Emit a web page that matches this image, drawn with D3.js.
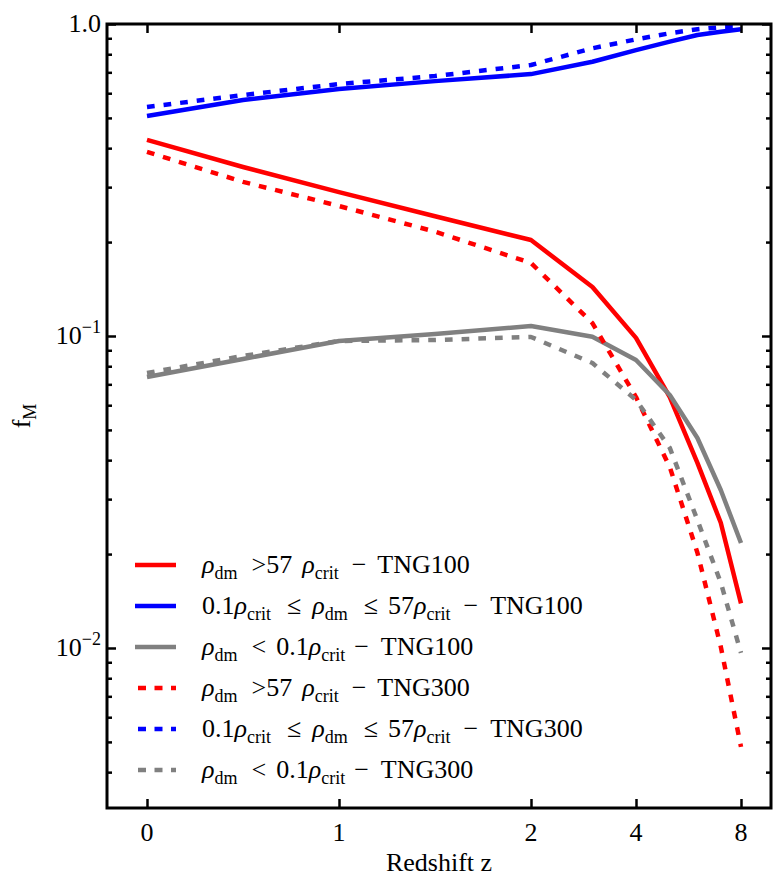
<!DOCTYPE html>
<html>
<head>
<meta charset="utf-8">
<script src="https://cdn.jsdelivr.net/npm/d3@7"></script>
<style>
  body { margin: 0; background: #fff; }
  text { white-space: pre; font-family: "Liberation Serif", "DejaVu Serif", serif; }
</style>
</head>
<body>
<div id="chart"></div>
<script>
// redshifts of the snapshots
const redshifts = [0, 0.5, 1, 1.5, 2, 3, 4, 5, 6, 7, 8];

// mass fractions
const highTNG100 = [0.425, 0.348, 0.289, 0.242, 0.203, 0.1436, 0.0986, 0.0637, 0.0392, 0.0252, 0.0139];
const midTNG100  = [0.507, 0.571, 0.619, 0.656, 0.691, 0.757, 0.825, 0.878, 0.922, 0.945, 0.962];
const lowTNG100  = [0.0739, 0.0844, 0.0964, 0.1015, 0.1076, 0.0995, 0.0838, 0.0647, 0.0471, 0.0321, 0.0217];
const highTNG300 = [0.389, 0.312, 0.261, 0.216, 0.1714, 0.110, 0.0637, 0.038, 0.0202, 0.0101, 0.00482];
const midTNG300  = [0.542, 0.592, 0.642, 0.681, 0.739, 0.836, 0.893, 0.934, 0.962, 0.976, 0.978];
const lowTNG300  = [0.0761, 0.0863, 0.0964, 0.0971, 0.0993, 0.0819, 0.0624, 0.0438, 0.0257, 0.0162, 0.00964];

const xTickValues = [0, 1, 2, 4, 8];
const yMajorTicks = [0.01, 0.1, 1];
const yMinorTicks = [0.004, 0.005, 0.006, 0.007, 0.008, 0.009,
                     0.02, 0.03, 0.04, 0.05, 0.06, 0.07, 0.08, 0.09,
                     0.2, 0.3, 0.4, 0.5, 0.6, 0.7, 0.8, 0.9];

const margin = {top: 24, right: 12, bottom: 80, left: 107};
const width = 783 - margin.left - margin.right;
const height = 888 - margin.top - margin.bottom;

// axis is linear up to z=2 then logarithmic in z
function warpZ(z) {
    return z <= 2 ? z : 2 + Math.log2(z / 2) * (105 / 192);
}

const x = d3.scaleLinear()
    .domain([-0.2083, 3.25])
    .range([0, width]);

const y = d3.scaleLog()
    .domain([0.00307, 1])
    .range([height, 0]);

const svg = d3.select('#chart')
    .append('svg')
    .attr('width', 783)
    .attr('height', 888);

const g = svg.append('g')
    .attr('transform', `translate(${margin.left},${margin.top})`);

const series = [
    {values: highTNG100, color: '#ff0000', dotted: false},
    {values: midTNG100,  color: '#0000ff', dotted: false},
    {values: lowTNG100,  color: '#808080', dotted: false},
    {values: highTNG300, color: '#ff0000', dotted: true},
    {values: midTNG300,  color: '#0000ff', dotted: true},
    {values: lowTNG300,  color: '#808080', dotted: true}
];

const line = d3.line()
    .x((d, i) => x(warpZ(redshifts[i])))
    .y(d => y(d));

g.selectAll('path.series')
    .data(series)
    .enter()
    .append('path')
    .attr('class', 'series')
    .attr('fill', 'none')
    .attr('stroke', d => d.color)
    .attr('stroke-width', 4.5)
    .attr('stroke-linejoin', 'round')
    .attr('stroke-dasharray', d => d.dotted ? '7.7,9' : null)
    .attr('d', d => line(d.values));

// ticks, all pointing inward
function ticks(axis, size, values, transform) {
    const a = g.append('g')
        .attr('transform', transform || null)
        .call(axis.tickValues(values).tickSize(-size).tickFormat(''));
    a.select('.domain').remove();
    a.selectAll('line').attr('stroke', '#000').attr('stroke-width', 2.5);
}

const xTicksWarped = xTickValues.map(warpZ);
ticks(d3.axisBottom(x), 9, xTicksWarped, `translate(0,${height})`);
ticks(d3.axisTop(x), 9, xTicksWarped);
ticks(d3.axisLeft(y), 9, yMajorTicks);
ticks(d3.axisLeft(y), 5, yMinorTicks);
ticks(d3.axisRight(y), 9, yMajorTicks, `translate(${width},0)`);
ticks(d3.axisRight(y), 5, yMinorTicks, `translate(${width},0)`);

g.append('rect')
    .attr('width', width)
    .attr('height', height)
    .attr('fill', 'none')
    .attr('stroke', '#000')
    .attr('stroke-width', 3);

// tick labels
g.selectAll('text.xlab')
    .data(xTickValues)
    .enter()
    .append('text')
    .attr('x', d => x(warpZ(d)))
    .attr('y', height + 33)
    .attr('text-anchor', 'middle')
    .style('font-size', '26px')
    .text(d => d);

const yLab = g.selectAll('text.ylab')
    .data(yMajorTicks)
    .enter()
    .append('text')
    .attr('x', -6)
    .attr('y', d => y(d) + 8)
    .attr('text-anchor', 'end')
    .style('font-size', '26px');

yLab.filter(d => d === 1).text('1.0');
yLab.filter(d => d !== 1).each(function(d) {
    const t = d3.select(this);
    t.append('tspan').text('10');
    t.append('tspan')
        .attr('dy', -11)
        .style('font-size', '18px')
        .text('\u2212' + Math.round(-Math.log10(d)));
});

// axis titles
g.append('text')
    .attr('x', width / 2)
    .attr('y', height + 63)
    .attr('text-anchor', 'middle')
    .style('font-size', '26px')
    .text('Redshift z');

const yTitle = g.append('text')
    .attr('transform', `translate(${30 - margin.left},${height / 2}) rotate(-90)`)
    .attr('text-anchor', 'middle')
    .style('font-size', '26px');
yTitle.append('tspan').text('f');
yTitle.append('tspan').attr('dy', 6).style('font-size', '18px').text('M');

// legend labels: [text, kind, gap before]; i = italic, s = subscript
const rho = '\u03c1';
const labelHigh = sim => [[rho, 'i', 0], ['dm', 's', 0], ['>57', 'n', 14], [rho, 'i', 10], ['crit', 's', 0], ['\u2212', 'n', 13], [sim, 'n', 11]];
const labelMid = sim => [['0.1', 'n', 0], [rho, 'i', 0], ['crit', 's', 0], ['\u2264', 'n', 16], [rho, 'i', 11], ['dm', 's', 0], ['\u2264', 'n', 16], ['57', 'n', 10], [rho, 'i', 0], ['crit', 's', 0], ['\u2212', 'n', 13], [sim, 'n', 12]];
const labelLow = sim => [[rho, 'i', 0], ['dm', 's', 0], ['<', 'n', 14], ['0.1', 'n', 10], [rho, 'i', 0], ['crit', 's', 0], ['\u2212', 'n', 9], [sim, 'n', 12]];
const legendLabels = [
    labelHigh('TNG100'), labelMid('TNG100'), labelLow('TNG100'),
    labelHigh('TNG300'), labelMid('TNG300'), labelLow('TNG300')
];

const legend = g.append('g')
    .attr('transform', `translate(${135 - margin.left},${565 - margin.top})`);

const rows = legend.selectAll('g')
    .data(series)
    .enter()
    .append('g')
    .attr('transform', (d, i) => `translate(0,${i * 41})`);

rows.append('line')
    .attr('x1', 0)
    .attr('x2', 41)
    .attr('stroke', d => d.color)
    .attr('stroke-width', 4.5)
    .attr('stroke-dasharray', d => d.dotted ? '8,8.5' : null)
    .attr('stroke-dashoffset', d => d.dotted ? -3 : null);

rows.append('text')
    .attr('x', 67)
    .attr('y', 8)
    .style('font-size', '26px')
    .each(function(d, i) {
        const t = d3.select(this);
        let shift = 0;
        legendLabels[i].forEach(([txt, kind, gap]) => {
            const ts = t.append('tspan').text(txt);
            if (gap) ts.attr('dx', gap);
            if (kind === 's') {
                ts.attr('dy', 6 - shift).style('font-size', '18px');
                shift = 6;
            } else {
                if (shift) ts.attr('dy', -shift);
                shift = 0;
                if (kind === 'i') ts.style('font-style', 'italic');
            }
        });
    });
</script>
</body>
</html>
